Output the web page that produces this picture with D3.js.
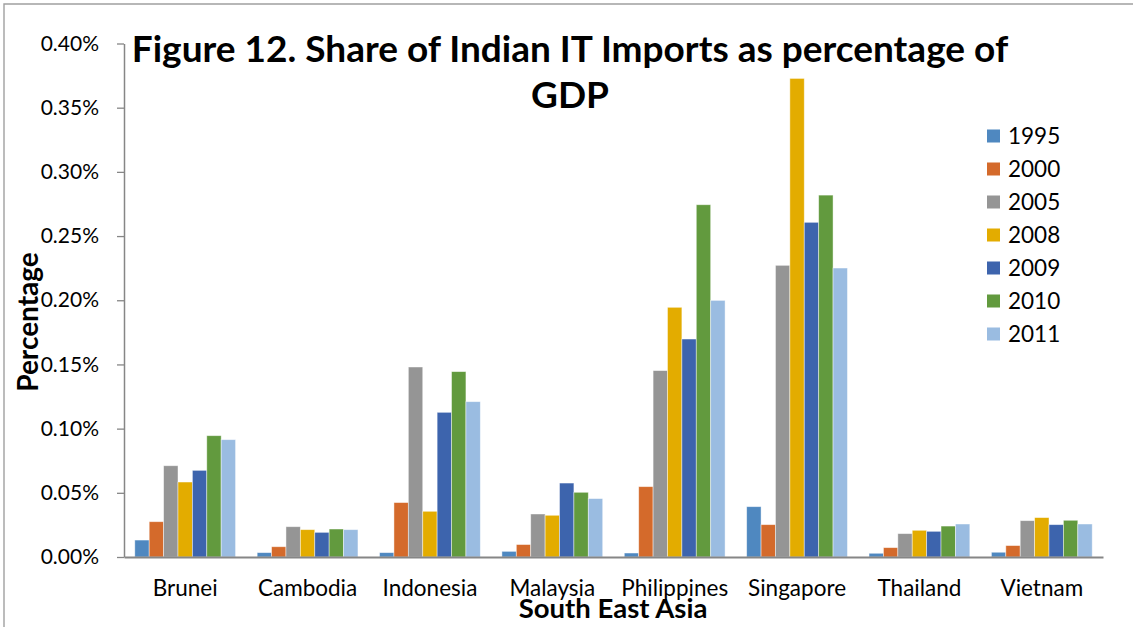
<!DOCTYPE html>
<html>
<head>
<meta charset="utf-8">
<script src="https://cdn.jsdelivr.net/npm/d3@7"></script>
<style>
  html, body { margin: 0; padding: 0; background: #fff; }
  svg { display: block; font-family: Lato, "Liberation Sans", sans-serif; }
</style>
</head>
<body>
<svg id="chart" width="1133" height="627"></svg>
<script>
// Share of Indian IT imports as percentage of GDP, South East Asia
const countries = ["Brunei", "Cambodia", "Indonesia", "Malaysia", "Philippines", "Singapore", "Thailand", "Vietnam"];
const years = ["1995", "2000", "2005", "2008", "2009", "2010", "2011"];
const colors = ["#4F88C0", "#D46A2B", "#959595", "#E3AC00", "#3D64AD", "#629A3E", "#9ABCE1"];

// values in percent of GDP, one array per year (order follows countries)
const v1995 = [0.0132, 0.0034, 0.0034, 0.0044, 0.0031, 0.0392, 0.0029, 0.0037];
const v2000 = [0.0275, 0.0080, 0.0424, 0.0097, 0.0548, 0.0252, 0.0073, 0.0089];
const v2005 = [0.0711, 0.0236, 0.1480, 0.0335, 0.1452, 0.2272, 0.0182, 0.0283];
const v2008 = [0.0584, 0.0213, 0.0356, 0.0325, 0.1945, 0.3728, 0.0208, 0.0307];
const v2009 = [0.0675, 0.0192, 0.1127, 0.0576, 0.1698, 0.2607, 0.0200, 0.0252];
const v2010 = [0.0945, 0.0218, 0.1444, 0.0504, 0.2744, 0.2819, 0.0241, 0.0286];
const v2011 = [0.0914, 0.0213, 0.1210, 0.0455, 0.1999, 0.2251, 0.0257, 0.0257];
const seriesValues = [v1995, v2000, v2005, v2008, v2009, v2010, v2011];

const yTicks = [0, 0.05, 0.10, 0.15, 0.20, 0.25, 0.30, 0.35, 0.40];

const titleLines = ["Figure 12. Share of Indian IT Imports as percentage of", "GDP"];
const xTitle = "South East Asia";
const yTitle = "Percentage";

const svg = d3.select("#chart");

// chart area frame (left and top edges)
svg.append("path")
  .attr("d", "M4,627 L4,4 L1133,4")
  .attr("fill", "none")
  .attr("stroke", "#a0a0a0")
  .attr("stroke-width", 1.4);

const plot = { left: 124, right: 1103, top: 43.5, bottom: 557 };

const x0 = d3.scaleBand()
  .domain(countries)
  .range([plot.left, plot.right])
  .paddingInner(1.5 / 8.5)
  .paddingOuter(0.75 / 8.5);

const x1 = d3.scaleBand()
  .domain(years)
  .range([0, x0.bandwidth()]);

const y = d3.scaleLinear()
  .domain([0, 0.40])
  .range([plot.bottom, plot.top]);

const color = d3.scaleOrdinal().domain(years).range(colors);

// bars
const rows = countries.map((c, i) => ({
  country: c,
  values: years.map((yr, j) => ({ year: yr, value: seriesValues[j][i] }))
}));

const groups = svg.append("g").selectAll("g")
  .data(rows)
  .join("g")
  .attr("transform", d => `translate(${x0(d.country)},0)`);

groups.selectAll("rect")
  .data(d => d.values)
  .join("rect")
  .attr("x", d => x1(d.year))
  .attr("width", x1.bandwidth())
  .attr("y", d => y(d.value))
  .attr("height", d => y(0) - y(d.value))
  .attr("fill", d => color(d.year))
  .attr("stroke", "#ffffff")
  .attr("stroke-opacity", 0.55)
  .attr("stroke-width", 0.8);

// y axis
const yAxis = d3.axisLeft(y)
  .tickValues(yTicks)
  .tickFormat(d => d3.format(".2f")(d) + "%")
  .tickSizeOuter(0)
  .tickSizeInner(7)
  .tickPadding(18);

const gy = svg.append("g")
  .attr("transform", `translate(${plot.left},0)`)
  .call(yAxis);
gy.select(".domain").attr("stroke", "#868686").attr("stroke-width", 1.5);
gy.selectAll(".tick line").attr("stroke", "#868686").attr("stroke-width", 1.3);
gy.selectAll(".tick text")
  .attr("fill", "#000")
  .style("font-size", "21px")
  .style("font-family", "Lato, 'Liberation Sans', sans-serif");

// x axis
const xAxis = d3.axisBottom(x0).tickSize(0).tickPadding(23);
const gx = svg.append("g")
  .attr("transform", `translate(0,${plot.bottom})`)
  .call(xAxis);
gx.select(".domain").attr("stroke", "#868686").attr("stroke-width", 2);
gx.selectAll(".tick text")
  .attr("fill", "#000")
  .style("font-size", "22.5px")
  .style("font-family", "Lato, 'Liberation Sans', sans-serif");

// title
svg.append("g").selectAll("text")
  .data(titleLines)
  .join("text")
  .attr("x", 570)
  .attr("y", (d, i) => 62 + i * 46)
  .attr("text-anchor", "middle")
  .style("font-size", "37px")
  .style("font-weight", "bold")
  .text(d => d);

// axis titles
svg.append("text")
  .attr("x", 613)
  .attr("y", 618)
  .attr("text-anchor", "middle")
  .style("font-size", "27.5px")
  .style("font-weight", "bold")
  .text(xTitle);

svg.append("text")
  .attr("transform", "translate(38,322) rotate(-90)")
  .attr("text-anchor", "middle")
  .style("font-size", "28px")
  .style("font-weight", "bold")
  .text(yTitle);

// legend
const legend = svg.append("g").selectAll("g")
  .data(years)
  .join("g")
  .attr("transform", (d, i) => `translate(987,${136 + i * 33})`);

legend.append("rect")
  .attr("x", 0)
  .attr("y", -6.5)
  .attr("width", 13)
  .attr("height", 13)
  .attr("fill", d => color(d));

legend.append("text")
  .attr("x", 21)
  .attr("y", 0)
  .attr("dy", "0.35em")
  .style("font-size", "22.5px")
  .text(d => d);
</script>
</body>
</html>
